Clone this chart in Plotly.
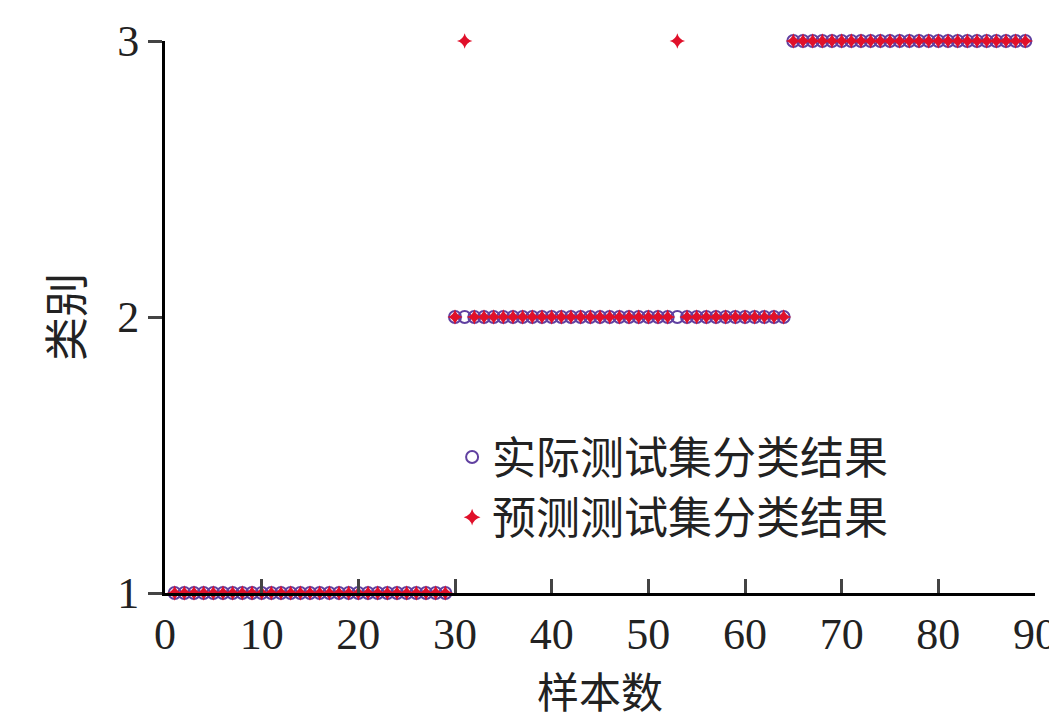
import plotly.graph_objects as go

samples = list(range(1, 90))
actual = [1] * 29 + [2] * 35 + [3] * 25
wrong = {31: 3, 53: 3}
predicted = [wrong.get(s, a) for s, a in zip(samples, actual)]

font = "Liberation Serif, Noto Sans CJK SC"

fig = go.Figure()
fig.add_trace(go.Scatter(
    x=samples, y=actual, mode="markers", name="实际测试集分类结果",
    marker=dict(symbol="circle-open", size=12, color="#6040a0", line=dict(width=2)),
    cliponaxis=False))
fig.add_trace(go.Scatter(
    x=samples, y=predicted, mode="markers", name="预测测试集分类结果",
    marker=dict(symbol="star-diamond", size=11, color="#e0102a"),
    cliponaxis=False))

fig.update_layout(
    width=1057, height=720, plot_bgcolor="white", paper_bgcolor="white",
    margin=dict(l=157, r=30, t=33, b=135),
    font=dict(family=font, size=44, color="#222"),
    legend=dict(x=0.33, y=0.31, xanchor="left", yanchor="top",
                font=dict(size=44, family="Noto Sans CJK SC"),
                bgcolor="rgba(255,255,255,0)", itemsizing="constant"),
)
fig.update_xaxes(range=[0, 90], dtick=10, showline=True, linecolor="black", linewidth=3,
                 ticks="inside", ticklen=14, tickwidth=3, showgrid=False, zeroline=False,
                 automargin=False,
                 title=dict(text="样本数", font=dict(size=42, family="Noto Sans CJK SC"), standoff=0))
fig.update_yaxes(range=[1, 3], dtick=1, showline=True, linecolor="black", linewidth=3,
                 ticks="outside", ticklen=14, tickwidth=3, showgrid=False, zeroline=False,
                 automargin=False,
                 title=dict(text="类别", font=dict(size=44, family="Noto Sans CJK SC"), standoff=20))

fig.write_html("out.html")
